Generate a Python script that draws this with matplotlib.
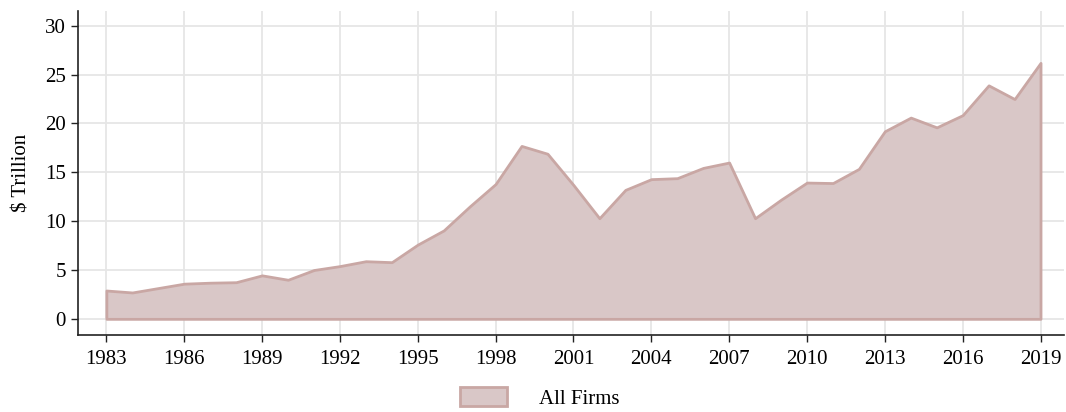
import numpy as np
import matplotlib.pyplot as plt

plt.rcParams['font.family'] = ['Liberation Serif', 'DejaVu Serif']

years = list(range(1983, 2020))
values = [2.9, 2.7, 3.15, 3.6, 3.7, 3.75, 4.45, 4.0, 5.0, 5.4,
          5.9, 5.8, 7.6, 9.05, 11.5, 13.8, 17.7, 16.9, 13.7, 10.3,
          13.2, 14.3, 14.4, 15.45, 16.0, 10.3, 12.2, 13.95, 13.9, 15.35,
          19.2, 20.6, 19.6, 20.85, 23.9, 22.5, 26.2]
xticks = list(range(1983, 2020, 3))
yticks = [0, 5, 10, 15, 20, 25, 30]

fig = plt.figure(figsize=(10.66, 4.12), dpi=100)
ax = fig.add_axes([0.073, 0.187, 0.925, 0.786])

ax.fill_between(years, 0, values, facecolor='#d9c7c7', edgecolor='#c9a7a4',
                linewidth=2, label='All Firms', zorder=2)

ax.set_xlim(1981.9, 2019.9)
ax.set_ylim(-1.65, 31.5)
ax.set_xticks(xticks)
ax.set_yticks(yticks)
ax.grid(True, color='#e6e6e6', linewidth=1.3, zorder=0)
ax.set_axisbelow(True)
for s in ['top', 'right']:
    ax.spines[s].set_visible(False)
for s in ['left', 'bottom']:
    ax.spines[s].set_color('#222222')
    ax.spines[s].set_linewidth(1.2)
ax.tick_params(labelsize=15, length=5, width=1, color='#222222')
ax.tick_params(axis='x', pad=6)
ax.set_ylabel('$ Trillion', fontsize=15, labelpad=10)

fig.legend(loc='lower center', bbox_to_anchor=(0.506, -0.038), frameon=False,
           fontsize=15, handlelength=2.3, handleheight=1.0, handletextpad=1.5)

fig.savefig('out.png', dpi=100)
